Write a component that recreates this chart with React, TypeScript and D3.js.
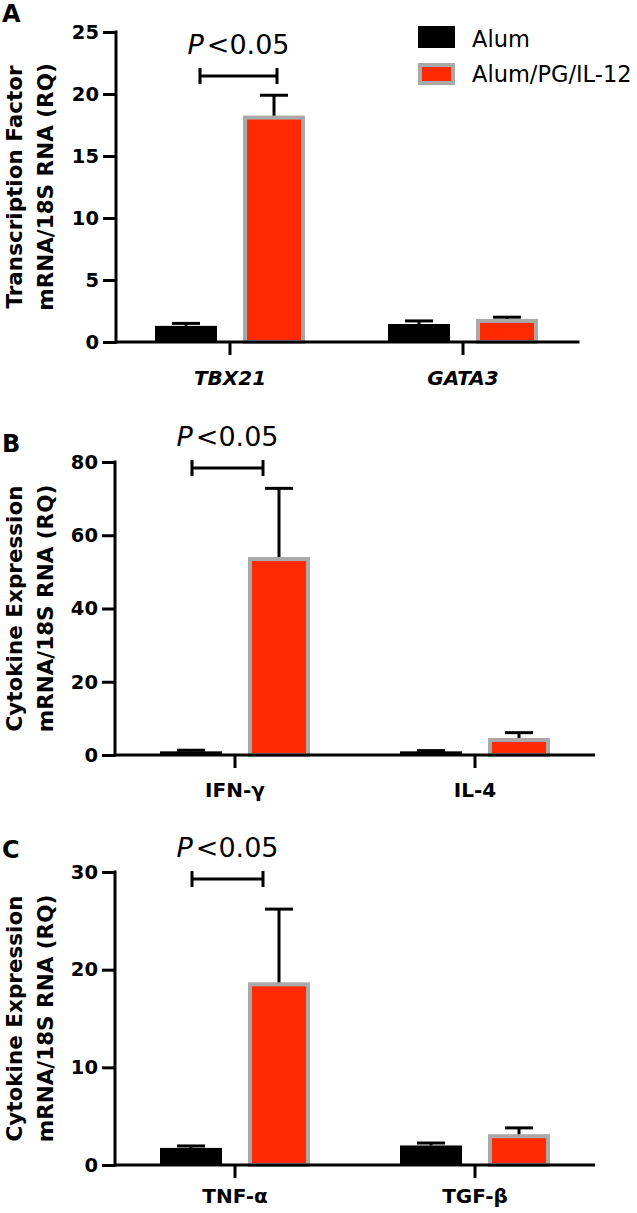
import React, { useEffect, useRef } from "react"
import * as d3 from "d3"

const groups = ["Alum", "Alum/PG/IL-12"]
const groupFill = ["#000000", "#ff2a00"]
const groupStroke = ["#000000", "#a9a9a9"]

// panel A - transcription factors
const categoriesA = ["TBX21", "GATA3"]
const alumA = [1.3, 1.45]
const alumErrA = [1.5, 1.7]
const pgA = [18.1, 1.7]
const pgErrA = [19.9, 2.0]
const ticksA = [0, 5, 10, 15, 20, 25]

// panel B - Th1/Th2 cytokines
const categoriesB = ["IFN-γ", "IL-4"]
const alumB = [1.0, 1.0]
const alumErrB = [1.3, 1.2]
const pgB = [53.5, 4.1]
const pgErrB = [72.8, 6.1]
const ticksB = [0, 20, 40, 60, 80]

// panel C - other cytokines
const categoriesC = ["TNF-α", "TGF-β"]
const alumC = [1.75, 2.0]
const alumErrC = [1.95, 2.25]
const pgC = [18.5, 2.95]
const pgErrC = [26.2, 3.8]
const ticksC = [0, 10, 20, 30]

const FONT = "DejaVu Sans"

const panels = [
  {
    letter: "A", letterY: 22,
    categories: categoriesA, italic: true,
    means: [alumA, pgA], errs: [alumErrA, pgErrA], ticks: ticksA,
    label: ["Transcription Factor", "mRNA/18S RNA (RQ)"],
    yTop: 32, yBottom: 342, axisX: 116, xStart: 113.5, xEnd: 579.5,
    bracket: [-30, 47], bracketY: 76, labelDy: 43,
  },
  {
    letter: "B", letterY: 452,
    categories: categoriesB, italic: false,
    means: [alumB, pgB], errs: [alumErrB, pgErrB], ticks: ticksB,
    label: ["Cytokine Expression", "mRNA/18S RNA (RQ)"],
    yTop: 462, yBottom: 755, axisX: 115, xStart: 115, xEnd: 595,
    bracket: [-43, 28], bracketY: 468, labelDy: 42,
  },
  {
    letter: "C", letterY: 858,
    categories: categoriesC, italic: false,
    means: [alumC, pgC], errs: [alumErrC, pgErrC], ticks: ticksC,
    label: ["Cytokine Expression", "mRNA/18S RNA (RQ)"],
    yTop: 872, yBottom: 1165, axisX: 115, xStart: 115, xEnd: 595,
    bracket: [-43, 28], bracketY: 879, labelDy: 38,
  },
]

function drawPanel(svg, p) {
  const max = p.ticks[p.ticks.length - 1]
  const y = d3.scaleLinear().domain([0, max]).range([p.yBottom, p.yTop])
  const x = d3.scaleBand().domain(p.categories).range([p.xStart, p.xEnd])
  const inner = d3.scalePoint().domain(groups).range([-44, 44])
  const g = svg.append("g")
  const cx = (c) => x(c) + x.bandwidth() / 2

  // error bars go under the bars
  groups.forEach((grp, j) => {
    p.categories.forEach((c, i) => {
      const bx = cx(c) + inner(grp)
      g.append("line")
        .attr("x1", bx).attr("x2", bx)
        .attr("y1", y(p.means[j][i])).attr("y2", y(p.errs[j][i]))
        .attr("stroke", "#000").attr("stroke-width", 3)
      g.append("line")
        .attr("x1", bx - 14).attr("x2", bx + 14)
        .attr("y1", y(p.errs[j][i])).attr("y2", y(p.errs[j][i]))
        .attr("stroke", "#000").attr("stroke-width", 3)
    })
  })

  groups.forEach((grp, j) => {
    const sw = j === 0 ? 0 : 4
    g.selectAll(null)
      .data(p.categories)
      .enter()
      .append("rect")
      .attr("x", c => cx(c) + inner(grp) - 31 + sw / 2)
      .attr("width", 62 - sw)
      .attr("y", (c, i) => y(p.means[j][i]))
      .attr("height", (c, i) => y(0) - y(p.means[j][i]))
      .attr("fill", groupFill[j])
      .attr("stroke", sw ? groupStroke[j] : "none")
      .attr("stroke-width", sw)
  })

  // y axis
  const yAxis = d3.axisLeft(y).tickValues(p.ticks).tickSize(13).tickSizeOuter(0).tickPadding(4)
  const ag = g.append("g").attr("transform", `translate(${p.axisX},0)`).call(yAxis)
  ag.select(".domain").attr("stroke-width", 3).attr("d", `M0,${p.yBottom + 1.5}V${p.yTop - 1.5}`)
  ag.selectAll(".tick line").attr("stroke-width", 3)
  ag.selectAll(".tick text")
    .attr("font-family", FONT).attr("font-weight", "bold").attr("font-size", 19.5).attr("fill", "#000")

  // x baseline + category ticks
  g.append("line")
    .attr("x1", p.axisX).attr("x2", p.xEnd)
    .attr("y1", y(0)).attr("y2", y(0))
    .attr("stroke", "#000").attr("stroke-width", 3)
  p.categories.forEach(c => {
    g.append("line")
      .attr("x1", cx(c)).attr("x2", cx(c))
      .attr("y1", y(0)).attr("y2", y(0) + 13)
      .attr("stroke", "#000").attr("stroke-width", 3)
    g.append("text")
      .attr("x", cx(c)).attr("y", y(0) + p.labelDy)
      .attr("text-anchor", "middle")
      .attr("font-family", FONT).attr("font-weight", "bold").attr("font-size", 20)
      .attr("font-style", p.italic ? "italic" : "normal")
      .text(c)
  })

  // y label, two lines
  const midY = (p.yTop + p.yBottom) / 2
  p.label.forEach((t, k) => {
    g.append("text")
      .attr("transform", `translate(${22 + k * 31},${midY}) rotate(-90)`)
      .attr("text-anchor", "middle")
      .attr("font-family", FONT).attr("font-weight", "bold").attr("font-size", 21.5)
      .text(t)
  })

  // panel letter
  g.append("text")
    .attr("x", 2).attr("y", p.letterY)
    .attr("font-family", FONT).attr("font-weight", "bold").attr("font-size", 24)
    .text(p.letter)

  // significance bracket
  const c0 = cx(p.categories[0])
  const bx1 = c0 + p.bracket[0]
  const bx2 = c0 + p.bracket[1]
  g.append("line")
    .attr("x1", bx1).attr("x2", bx2).attr("y1", p.bracketY).attr("y2", p.bracketY)
    .attr("stroke", "#000").attr("stroke-width", 3)
  ;[bx1, bx2].forEach(bx => {
    g.append("line")
      .attr("x1", bx).attr("x2", bx).attr("y1", p.bracketY - 8).attr("y2", p.bracketY + 8)
      .attr("stroke", "#000").attr("stroke-width", 3)
  })
  const pt = g.append("text")
    .attr("x", (bx1 + bx2) / 2).attr("y", p.bracketY - 22)
    .attr("text-anchor", "middle")
    .attr("font-family", FONT).attr("font-size", 27)
  pt.append("tspan").attr("font-style", "italic").text("P")
  pt.append("tspan").attr("dx", 3).text("<0.05")
}

export default function App() {
  const ref = useRef(null)

  useEffect(() => {
    const svg = d3.select(ref.current)
    svg.selectAll("*").remove()
    panels.forEach(p => drawPanel(svg, p))

    // legend
    const leg = svg.append("g")
    groups.forEach((grp, j) => {
      const sw = j === 0 ? 0 : 4
      leg.append("rect")
        .attr("x", 418 + sw / 2).attr("y", 26 + j * 37 + sw / 2)
        .attr("width", 37 - sw).attr("height", 22 - sw)
        .attr("fill", groupFill[j])
        .attr("stroke", sw ? groupStroke[j] : "none")
        .attr("stroke-width", sw)
      leg.append("text")
        .attr("x", 472).attr("y", 47 + j * 35)
        .attr("font-family", FONT).attr("font-size", 22.5)
        .text(grp)
    })
  }, [])

  return (
    <svg
      ref={ref}
      width={637}
      height={1213}
      style={{ position: "absolute", left: 0, top: 0, background: "#fff" }}
    />
  )
}
